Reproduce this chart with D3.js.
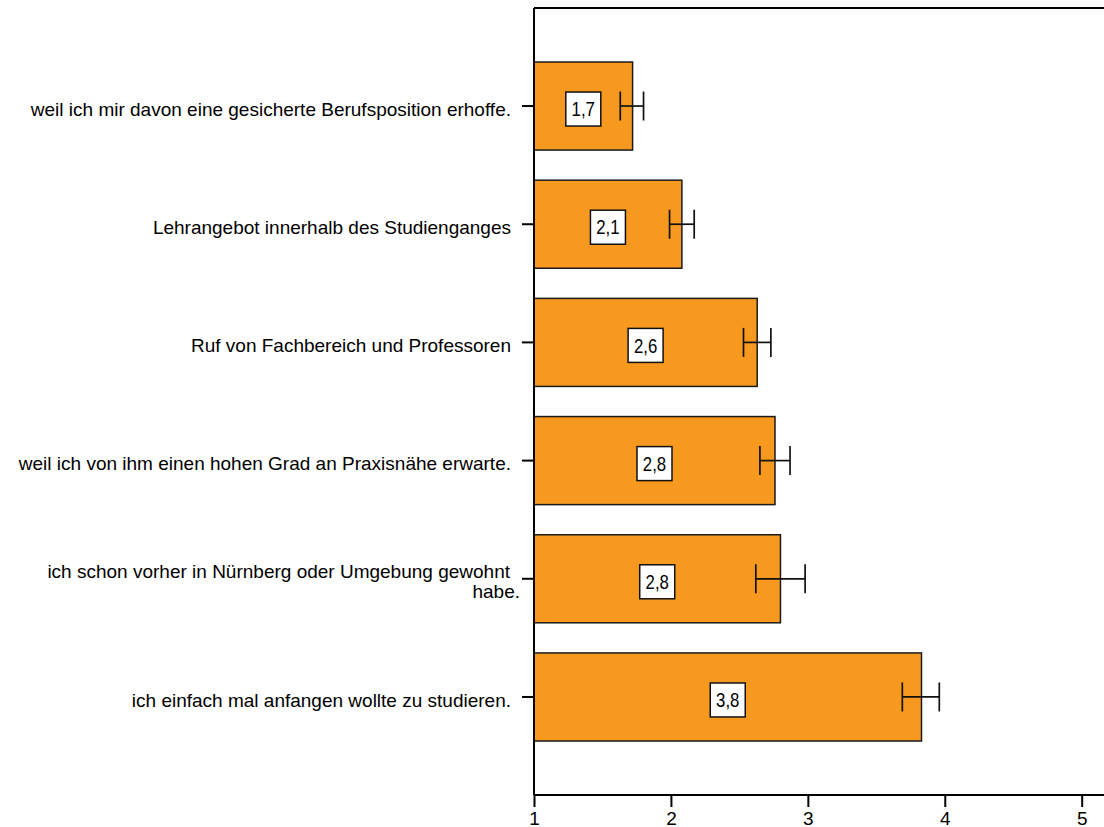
<!DOCTYPE html>
<html>
<head>
<meta charset="utf-8">
<script src="https://cdn.jsdelivr.net/npm/d3@7.9.0/dist/d3.min.js"></script>
<style>
  body { margin: 0; background: #fff; }
  svg { display: block; font-family: "Liberation Sans", Arial, sans-serif; }
</style>
</head>
<body>
<svg id="chart" width="1104" height="827"></svg>
<script>
// categories (top to bottom) – multi-line labels split by '\n'
const categories = [
  "weil ich mir davon eine gesicherte Berufsposition erhoffe.",
  "Lehrangebot innerhalb des Studienganges",
  "Ruf von Fachbereich und Professoren",
  "weil ich von ihm einen hohen Grad an Praxisnähe erwarte.",
  "ich schon vorher in Nürnberg oder Umgebung gewohnt\nhabe.",
  "ich einfach mal anfangen wollte zu studieren."
];
const means = [1.72, 2.08, 2.63, 2.76, 2.80, 3.83];
const errLow = [1.63, 1.99, 2.53, 2.65, 2.62, 3.69];
const errHigh = [1.80, 2.17, 2.73, 2.87, 2.98, 3.96];
const xTicks = [1, 2, 3, 4, 5];

const svg = d3.select("#chart");
const mLeft = 534, mRight = 1081.7, mTop = 8, mBottom = 795;

const x = d3.scaleLinear().domain([1, 5]).range([mLeft, mRight]);
const y = d3.scaleBand().domain(categories).range([mTop, mBottom])
  .paddingInner(0.255).paddingOuter(0.457);

const fmt = v => d3.format(".1f")(v).replace(".", ",");

// bars
svg.append("g").selectAll("rect")
  .data(categories)
  .join("rect")
  .attr("x", x(1))
  .attr("y", d => y(d))
  .attr("width", (d, i) => x(means[i]) - x(1))
  .attr("height", y.bandwidth())
  .attr("fill", "#f7991f")
  .attr("stroke", "#1a1a1a")
  .attr("stroke-width", 1.5);

// error bars
const eb = svg.append("g").attr("stroke", "#111").attr("stroke-width", 1.7);
categories.forEach((c, i) => {
  const cy = y(c) + y.bandwidth() / 2;
  eb.append("line").attr("x1", x(errLow[i])).attr("x2", x(errHigh[i]))
    .attr("y1", cy).attr("y2", cy);
  [errLow[i], errHigh[i]].forEach(v => {
    eb.append("line").attr("x1", x(v)).attr("x2", x(v))
      .attr("y1", cy - 14.5).attr("y2", cy + 14.5);
  });
});

// value labels in white boxes at bar middle
const lbl = svg.append("g");
categories.forEach((c, i) => {
  const cx = x((1 + means[i]) / 2);
  const cy = y(c) + y.bandwidth() / 2 + 3;
  const g = lbl.append("g").attr("transform", `translate(${cx},${cy})`);
  g.append("rect")
    .attr("x", -17.5).attr("y", -17)
    .attr("width", 35).attr("height", 34)
    .attr("fill", "#fff").attr("stroke", "#111").attr("stroke-width", 1.5);
  g.append("text")
    .attr("transform", "scale(0.84,1)")
    .attr("dy", "0.36em")
    .attr("text-anchor", "middle")
    .attr("font-size", 20)
    .attr("fill", "#000")
    .text(fmt(means[i]));
});

// y axis
const yAxis = svg.append("g");
yAxis.append("line").attr("x1", mLeft).attr("x2", mLeft)
  .attr("y1", mTop).attr("y2", mBottom)
  .attr("stroke", "#000").attr("stroke-width", 2);
categories.forEach(c => {
  const cy = y(c) + y.bandwidth() / 2;
  yAxis.append("line").attr("x1", mLeft - 12).attr("x2", mLeft)
    .attr("y1", cy).attr("y2", cy)
    .attr("stroke", "#000").attr("stroke-width", 2);
  const lines = c.split("\n");
  const t = yAxis.append("text")
    .attr("text-anchor", "end")
    .attr("font-size", 19)
    .attr("fill", "#000");
  lines.forEach((ln, k) => {
    t.append("tspan")
      .attr("x", lines.length > 1 && k === 0 ? 510 : (lines.length > 1 ? 520 : 511))
      .attr("y", cy + (k - (lines.length - 1) / 2) * 20 + 3)
      .attr("dy", "0.35em")
      .text(ln);
  });
});

// top frame line
svg.append("line").attr("x1", mLeft).attr("x2", 1104)
  .attr("y1", mTop).attr("y2", mTop)
  .attr("stroke", "#000").attr("stroke-width", 2);

// x axis
const xAxis = svg.append("g").attr("transform", `translate(0,${mBottom})`)
  .call(d3.axisBottom(x).tickValues(xTicks).tickFormat(d3.format("d"))
    .tickSize(12).tickPadding(5).tickSizeOuter(0));
xAxis.select(".domain").attr("stroke", "#000").attr("stroke-width", 2)
  .attr("d", `M${mLeft},0H1104`);
xAxis.selectAll(".tick line").attr("stroke", "#000").attr("stroke-width", 2);
xAxis.selectAll(".tick text").attr("font-size", 19)
  .attr("font-family", "Liberation Sans, Arial, sans-serif").attr("fill", "#000");
</script>
</body>
</html>
